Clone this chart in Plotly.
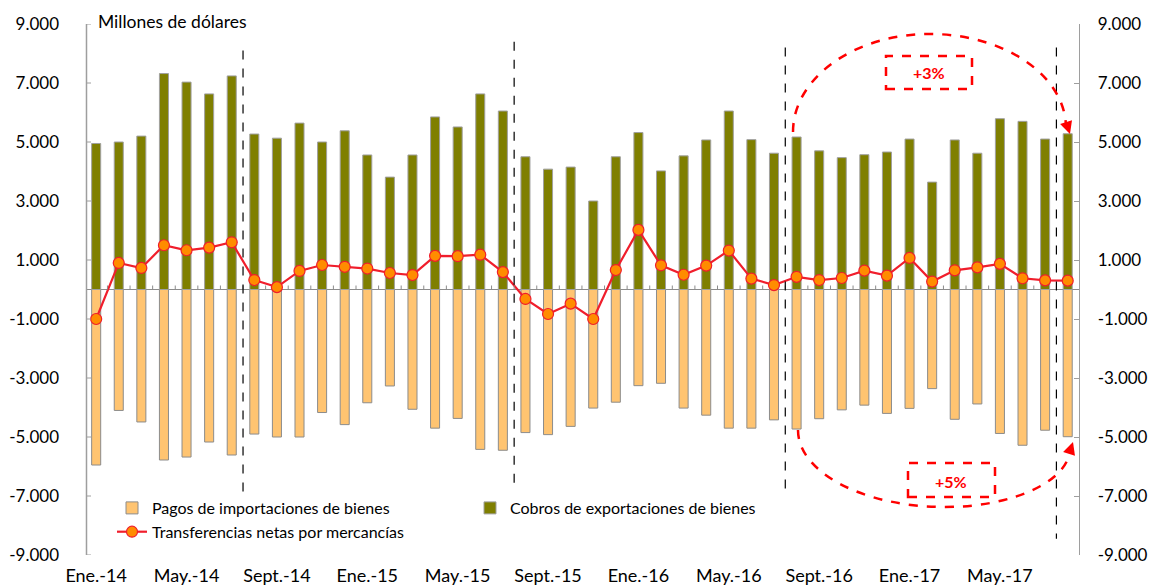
import plotly.graph_objects as go

months = [
    "Ene.-14", "Feb.-14", "Mar.-14", "Abr.-14", "May.-14", "Jun.-14", "Jul.-14", "Ago.-14",
    "Sept.-14", "Oct.-14", "Nov.-14", "Dic.-14",
    "Ene.-15", "Feb.-15", "Mar.-15", "Abr.-15", "May.-15", "Jun.-15", "Jul.-15", "Ago.-15",
    "Sept.-15", "Oct.-15", "Nov.-15", "Dic.-15",
    "Ene.-16", "Feb.-16", "Mar.-16", "Abr.-16", "May.-16", "Jun.-16", "Jul.-16", "Ago.-16",
    "Sept.-16", "Oct.-16", "Nov.-16", "Dic.-16",
    "Ene.-17", "Feb.-17", "Mar.-17", "Abr.-17", "May.-17", "Jun.-17", "Jul.-17", "Ago.-17",
]

exports = [
    4950, 5000, 5200, 7320, 7030, 6630, 7240, 5270, 5130, 5640, 5000, 5380,
    4560, 3810, 4560, 5850, 5510, 6630, 6050, 4500, 4080, 4150, 3000, 4500,
    5320, 4020, 4530, 5070, 6050, 5080, 4620, 5170, 4700, 4470, 4570, 4660,
    5100, 3640, 5070, 4620, 5790, 5700, 5100, 5280,
]

imports = [
    -5950, -4100, -4490, -5780, -5680, -5170, -5610, -4900, -5000, -5000, -4170, -4580,
    -3840, -3270, -4060, -4700, -4370, -5420, -5450, -4850, -4920, -4640, -4020, -3820,
    -3260, -3180, -4020, -4260, -4700, -4700, -4420, -4730, -4380, -4080, -3920, -4200,
    -4030, -3360, -4400, -3880, -4880, -5280, -4770, -4990,
]

net = [
    -1000, 900, 730, 1500, 1330, 1420, 1600, 320, 80, 630, 830, 770,
    710, 560, 490, 1140, 1130, 1180, 590, -320, -830, -480, -1000, 660,
    2020, 820, 500, 810, 1320, 370, 150, 430, 320, 390, 640, 470,
    1070, 270, 650, 750, 870, 380, 310, 300,
]

x_tick_labels = ["Ene.-14", "May.-14", "Sept.-14", "Ene.-15", "May.-15", "Sept.-15",
                 "Ene.-16", "May.-16", "Sept.-16", "Ene.-17", "May.-17"]
y_tick_vals = [-9000, -7000, -5000, -3000, -1000, 1000, 3000, 5000, 7000, 9000]
y_tick_text = ["-9.000", "-7.000", "-5.000", "-3.000", "-1.000",
               "1.000", "3.000", "5.000", "7.000", "9.000"]

FONT = "Lato"
L, R, T, B = 86, 70, 24, 33
W, H = 1149, 588
PW, PH = W - L - R, H - T - B
AXIS_GREY = "#9E9E9E"


def px(xp):
    return (xp - L) / PW


def py(yp):
    return (H - B - yp) / PH


fig = go.Figure()
fig.add_trace(go.Bar(
    x=months, y=imports, name="Pagos de importaciones de bienes",
    marker=dict(color="#FFC471", line=dict(color="#8C8C8C", width=1)),
    width=0.4, xaxis="x", yaxis="y",
))
fig.add_trace(go.Bar(
    x=months, y=exports, name="Cobros de exportaciones de bienes",
    marker=dict(color="#7F7F00", line=dict(color="#A0A0A0", width=1)),
    width=0.4, xaxis="x", yaxis="y",
))
fig.add_trace(go.Scatter(
    x=months, y=net, name="Transferencias netas por mercancías",
    mode="lines+markers", xaxis="x", yaxis="y2",
    line=dict(color="#F01E2C", width=2.2),
    marker=dict(color="#FF8C00", size=11, line=dict(color="#F01E2C", width=1.2)),
))

n = len(months)
xr = [-0.45, n - 0.5]

shapes = []
# left axis line and inside ticks
shapes.append(dict(type="line", xref="paper", yref="paper", x0=0.0005, x1=0.0005, y0=0, y1=1,
                   line=dict(color=AXIS_GREY, width=1.5), layer="above"))
for v in y_tick_vals:
    shapes.append(dict(type="line", xref="paper", xsizemode="pixel", xanchor=0, x0=0, x1=5,
                       yref="y", y0=v, y1=v, line=dict(color=AXIS_GREY, width=1)))
# category tick marks on the zero line
for i in range(n - 1):
    shapes.append(dict(type="line", xref="x", x0=i + 0.5, x1=i + 0.5, yref="y",
                       ysizemode="pixel", yanchor=0, y0=0, y1=4,
                       line=dict(color="#8C8C8C", width=1)))
# vertical dashed separators (between July and August of each year)
for xpos, y0, y1 in [(6.5, 8100, -7050), (18.5, 8400, -6850), (30.5, 8200, -7050), (42.5, 8200, -8450)]:
    shapes.append(dict(type="line", xref="x", yref="y", x0=xpos, x1=xpos, y0=y0, y1=y1,
                       line=dict(color="black", width=1.2, dash="dash")))


def bez(pts):
    s = "M %.5f,%.5f" % (px(pts[0][0]), py(pts[0][1]))
    i = 1
    while i < len(pts):
        s += " C %.5f,%.5f %.5f,%.5f %.5f,%.5f" % (
            px(pts[i][0]), py(pts[i][1]), px(pts[i + 1][0]), py(pts[i + 1][1]),
            px(pts[i + 2][0]), py(pts[i + 2][1]))
        i += 3
    return s


k = 0.5523
# upper arc
ux0, uy0, ucx, utop, ux1, uy1 = 793, 132, 930, 34, 1066, 128
upper = [(ux0, uy0), (ux0, uy0 - k * (uy0 - utop)), (ucx - k * (ucx - ux0), utop), (ucx, utop),
         (ucx + k * (ux1 - ucx), utop), (ux1, uy1 - k * (uy1 - utop)), (ux1, uy1)]
shapes.append(dict(type="path", xref="paper", yref="paper", path=bez(upper),
                   line=dict(color="#FF0000", width=2.5, dash="dash")))
# lower arc
lx0, ly0, lcx, lbot, lx1, ly1 = 798, 430, 945, 507, 1070, 448
lower = [(lx0, ly0), (lx0, ly0 + k * (lbot - ly0)), (lcx - k * (lcx - lx0), lbot), (lcx, lbot),
         (lcx + k * (lx1 - lcx), lbot), (lx1, ly1 + k * (lbot - ly1)), (lx1, ly1)]
shapes.append(dict(type="path", xref="paper", yref="paper", path=bez(lower),
                   line=dict(color="#FF0000", width=2.5, dash="dash")))
# boxes
shapes.append(dict(type="rect", xref="paper", yref="paper", x0=px(886), x1=px(972), y0=py(89), y1=py(56),
                   line=dict(color="#FF0000", width=2.5, dash="dash")))
shapes.append(dict(type="rect", xref="paper", yref="paper", x0=px(908), x1=px(995), y0=py(497), y1=py(463),
                   line=dict(color="#FF0000", width=2.5, dash="dash")))

annotations = [
    dict(text="Millones de dólares", xref="paper", yref="paper", x=px(96), y=1, xanchor="left",
         yanchor="middle", yshift=3, showarrow=False, font=dict(family=FONT, size=17.5, color="#000000")),
    dict(text="<b>+3%</b>", xref="paper", yref="paper", x=px(929), y=py(73), xanchor="center",
         yanchor="middle", showarrow=False, font=dict(family=FONT, size=16, color="#FF0000")),
    dict(text="<b>+5%</b>", xref="paper", yref="paper", x=px(951), y=py(481), xanchor="center",
         yanchor="middle", showarrow=False, font=dict(family=FONT, size=16, color="#FF0000")),
    dict(text="", xref="paper", yref="paper", x=px(1070), y=py(134), ax=-3, ay=-9,
         showarrow=True, arrowhead=2, arrowsize=1, arrowwidth=2.5, arrowcolor="#FF0000"),
    dict(text="", xref="paper", yref="paper", x=px(1073), y=py(442), ax=-3, ay=9,
         showarrow=True, arrowhead=2, arrowsize=1, arrowwidth=2.5, arrowcolor="#FF0000"),
]

fig.update_layout(
    template="none",
    width=W, height=H,
    margin=dict(l=L, r=R, t=T, b=B, pad=0, autoexpand=False),
    paper_bgcolor="white", plot_bgcolor="rgba(0,0,0,0)",
    barmode="relative",
    bargap=0,
    showlegend=True,
    legend=dict(orientation="h", x=px(112), y=py(491), xanchor="left", yanchor="top",
                font=dict(family=FONT, size=16, color="#000000"), bgcolor="rgba(0,0,0,0)",
                entrywidth=313, itemwidth=30, tracegroupgap=0, traceorder="normal"),
    font=dict(family=FONT, size=16, color="#000000"),
    xaxis=dict(type="category", range=xr, tickmode="array", tickvals=x_tick_labels,
               ticktext=x_tick_labels, showline=False, ticks="", showgrid=False, zeroline=False,
               automargin=False, ticklabelstandoff=8,
               tickfont=dict(family=FONT, size=18, color="#000000")),
    yaxis=dict(range=[-9000, 9000], tickmode="array", tickvals=y_tick_vals, ticktext=y_tick_text,
               side="left", anchor="x", showline=False, ticks="", showgrid=False, zeroline=True,
               zerolinecolor="#8C8C8C", zerolinewidth=1, ticklabelstandoff=26,
               automargin=False, tickfont=dict(family=FONT, size=17, color="#000000")),
    yaxis2=dict(range=[-9000, 9000], overlaying="y", side="right", anchor="x", tickmode="array",
                tickvals=y_tick_vals, ticktext=y_tick_text, showline=True, linecolor=AXIS_GREY,
                linewidth=1.3, ticks="inside", ticklen=5, tickcolor=AXIS_GREY, showgrid=False,
                zeroline=False, ticklabelstandoff=14, automargin=False,
                tickfont=dict(family=FONT, size=17, color="#000000")),
    shapes=shapes,
    annotations=annotations,
)

fig.write_html("out.html", config={"displayModeBar": False, "staticPlot": True},
               post_script="document.body.style.margin='0';document.body.style.padding='0';")
